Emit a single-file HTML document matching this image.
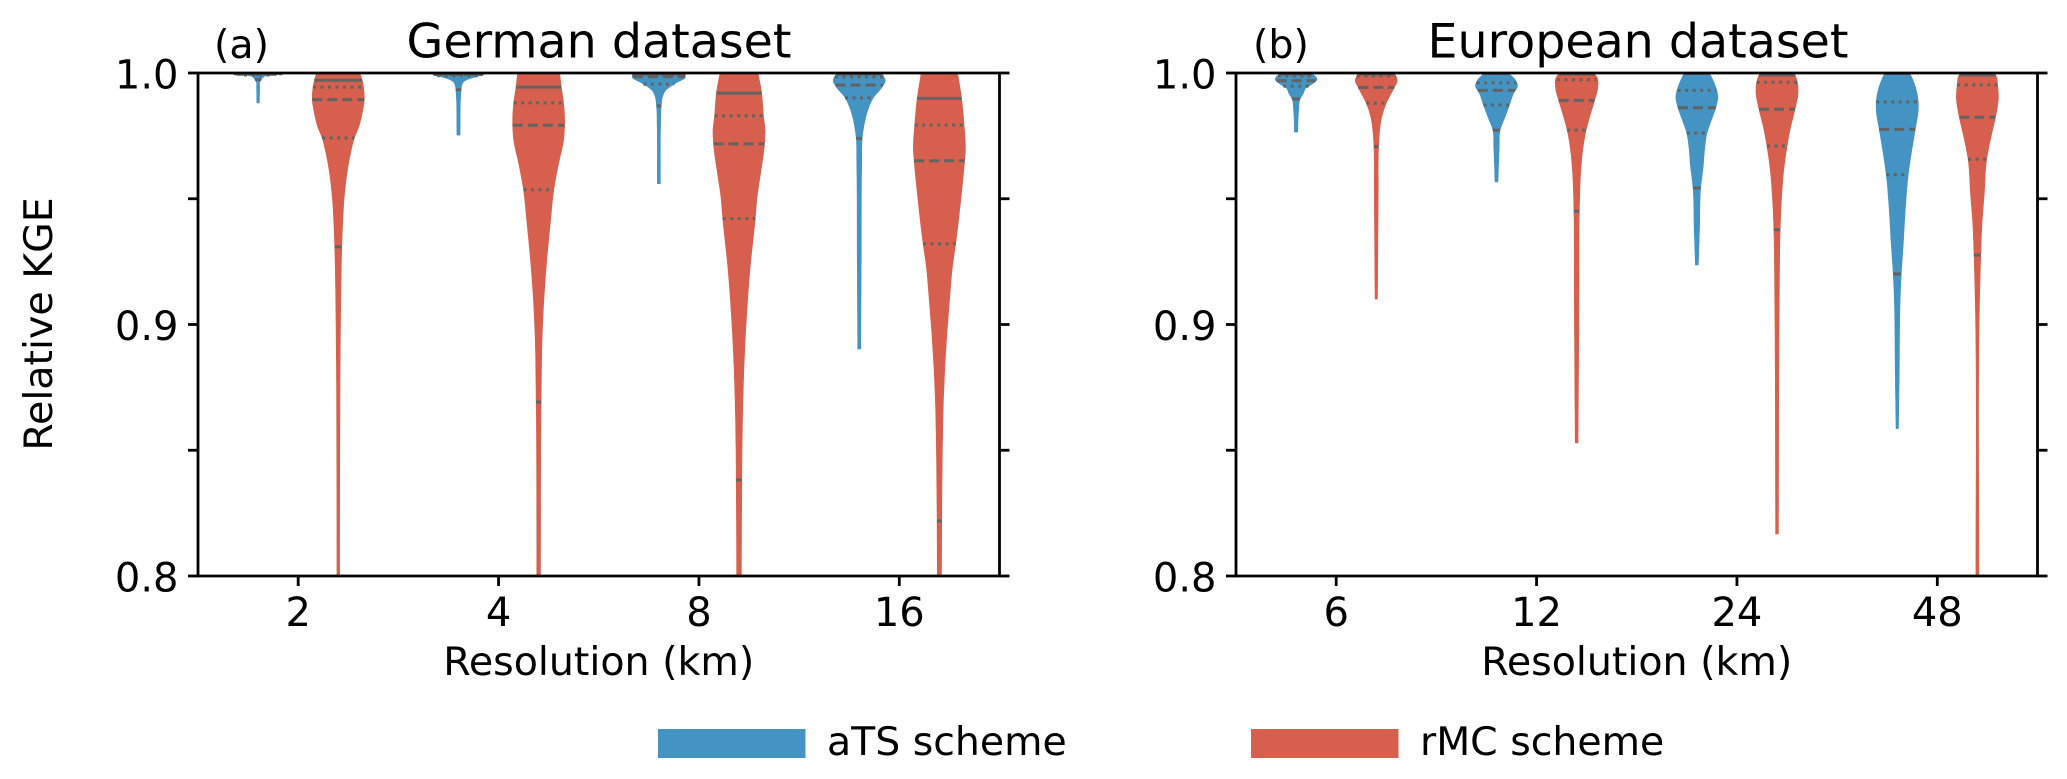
<!DOCTYPE html>
<html>
<head>
<meta charset="utf-8">
<title>Relative KGE violins</title>
<style>
html,body{margin:0;padding:0;background:#fff;}
svg{display:block;}
text{font-family:"DejaVu Sans","Liberation Sans",sans-serif;fill:#000;}
</style>
</head>
<body>
<svg id="chart" width="2067" height="779" viewBox="0 0 2067 779" xmlns="http://www.w3.org/2000/svg">
  <rect x="0" y="0" width="2067" height="779" fill="#ffffff"/>
  <text transform="translate(52,324) rotate(-90)" text-anchor="middle" font-size="39.5">Relative KGE</text>
  <text x="214" y="58" font-size="39.5">(a)</text>
  <text x="599" y="57.5" text-anchor="middle" font-size="47.5">German dataset</text>
  <text x="598.75" y="675" text-anchor="middle" font-size="39.5">Resolution (km)</text>
  <text x="1253" y="58" font-size="39.5">(b)</text>
  <text x="1638" y="57.5" text-anchor="middle" font-size="47.5">European dataset</text>
  <text x="1636.75" y="675" text-anchor="middle" font-size="39.5">Resolution (km)</text>
  <g>
    <rect x="658" y="729" width="147.5" height="29" fill="#4393c3"/>
    <text x="827" y="755" font-size="39.4">aTS scheme</text>
    <rect x="1251" y="729" width="147.5" height="29" fill="#d6604d"/>
    <text x="1420" y="755" font-size="39.4">rMC scheme</text>
  </g>
</svg>
<script>
const yTickValues = [1.0, 0.95, 0.9, 0.85, 0.8];
const yTickLabels = ['1.0', '', '0.9', '', '0.8'];
const germanResolutions = ['2', '4', '8', '16'];
const europeanResolutions = ['6', '12', '24', '48'];

const germanAtsKge = [
  [1, .9996, .9992, .9988, .9984, .998, .9974, .9968, .994, .9881],
  [1, .9992, .9984, .9976, .9968, .9952, .9932, .9901, .9753],
  [1, .998, .996, .9932, .9909, .9869, .9789, .956],
  [1, .9996, .9969, .994, .9906, .9853, .9801, .9742, .9654, .9256, .8903]
];
const germanAtsDensity = [
  [.96, .92, .54, .27, .21, .16, .12, .08, .06, .05],
  [1, .92, .65, .38, .23, .13, .10, .08, .06],
  [1, 1, .65, .27, .15, .09, .065, .058],
  [.85, .88, 1, .85, .57, .33, .2, .115, .096, .077, .058]
];
const germanAtsQuantiles = [
  [.9999, .9997, .9995, .9992, .9974],
  [.9998, .9996, .9994, .9989, .9934],
  [.9996, .9992, .9985, .9956, .9869],
  [.9996, .9984, .9952, .9901, .974]
];
const germanRmcKge = [
  [1, .9971, .9944, .9893, .9841, .9789, .9742, .967, .9575, .9495, .9416, .9308, .9097, .8831, .8],
  [1, .9944, .9881, .9809, .9734, .9642, .9535, .9416, .9229, .9097, .8966, .8692, .8],
  [1, .992, .9829, .9773, .9718, .9602, .9511, .9416, .9229, .9097, .8966, .8831, .87, .8501, .8],
  [1, .9901, .9793, .9694, .965, .9523, .9324, .9229, .9097, .8966, .8831, .87, .8501, .825, .8]
];
const germanRmcDensity = [
  [.83, .92, .97, 1, .92, .8, .62, .45, .30, .22, .175, .135, .096, .07, .05],
  [.81, .87, .96, 1, .96, .77, .58, .46, .29, .20, .14, .095, .07],
  [.73, .87, .94, 1, .98, .83, .70, .62, .43, .33, .25, .19, .15, .115, .09],
  [.70, .85, .95, 1, .97, .85, .63, .5, .39, .29, .21, .155, .115, .09, .08]
];
const germanRmcQuantiles = [
  [.9971, .9944, .9894, .9742, .9309],
  [.9944, .9881, .9792, .9536, .8692],
  [.992, .983, .9718, .9421, .8382],
  [.9899, .9793, .9651, .9321, .8219]
];
const europeanAtsKge = [
  [1, .9992, .9975, .9956, .9939, .992, .9897, .9853, .9765],
  [1, .9992, .9972, .9948, .9919, .9873, .9826, .9773, .9707, .9567],
  [1, .9959, .9903, .9862, .9813, .9761, .9707, .9627, .9543, .9389, .9237],
  [1, .9946, .9886, .9853, .9777, .9682, .9594, .9455, .9324, .9201, .9105, .8807, .8586]
];
const europeanAtsDensity = [
  [.67, .83, 1, .76, .45, .35, .19, .12, .076],
  [.57, .67, .90, 1, .81, .62, .41, .17, .13, .07],
  [.6, .83, 1, .9, .69, .48, .38, .3, .18, .13, .07],
  [.6, .86, 1, 1, .86, .67, .52, .38, .29, .19, .14, .095, .057]
];
const europeanAtsQuantiles = [
  [.9996, .9988, .9969, .9948, .9897],
  [.9998, .9961, .9931, .9873, .9773],
  [.9998, .9931, .9862, .9761, .9543],
  [.9998, .9885, .9776, .9596, .9201]
];
const europeanRmcKge = [
  [1, .9992, .9969, .9943, .9881, .9826, .9761, .9707, .9535, .9101],
  [1, .9992, .9939, .9893, .9826, .9773, .9694, .9602, .9451, .9125, .8529],
  [1, .9992, .9963, .992, .9857, .9786, .971, .9614, .9495, .9377, .9125, .8167],
  [1, .9992, .9953, .9899, .9824, .9747, .9657, .9523, .9389, .9276, .9105, .8]
];
const europeanRmcDensity = [
  [.81, .90, 1, .86, .48, .26, .15, .11, .095, .057],
  [.81, .90, 1, .86, .62, .45, .29, .19, .13, .114, .067],
  [.81, .86, .97, 1, .86, .65, .48, .32, .21, .15, .11, .067],
  [.8, .87, .96, 1, .86, .65, .44, .33, .21, .16, .105, .07]
];
const europeanRmcQuantiles = [
  [.9996, .9988, .9943, .988, .9707],
  [.9996, .9973, .9891, .9773, .945],
  [.9992, .9963, .9856, .971, .9377],
  [.9992, .9953, .9824, .9657, .9276]
];

const SVG_NS = 'http://www.w3.org/2000/svg';
const chart = document.getElementById('chart');
const COLORS = { ats: '#4393c3', rmc: '#d6604d' };
const LINE_COLOR = '#636363';
const DASHES = ['none', '3 4.5', '10 5', '3 4.5', 'none'];

function mk(tag, parent, attrs) {
  const el = document.createElementNS(SVG_NS, tag);
  for (const k in attrs) el.setAttribute(k, attrs[k]);
  parent.appendChild(el);
  return el;
}

function densityAt(v, kge, density) {
  for (let i = 0; i < kge.length - 1; i++) {
    if (v <= kge[i] && v >= kge[i + 1]) {
      const t = (kge[i] - v) / (kge[i] - kge[i + 1]);
      return density[i] + t * (density[i + 1] - density[i]);
    }
  }
  return density[density.length - 1];
}

/* Hermite segments with x as a function of y, tangents weighted for uneven spacing. */
function slopes(pts) {
  const n = pts.length, m = [];
  for (let i = 0; i < n; i++) {
    if (i === 0) {
      m.push((pts[1][0] - pts[0][0]) / (pts[1][1] - pts[0][1]));
    } else if (i === n - 1) {
      m.push((pts[i][0] - pts[i - 1][0]) / (pts[i][1] - pts[i - 1][1]));
    } else {
      const h0 = pts[i][1] - pts[i - 1][1], h1 = pts[i + 1][1] - pts[i][1];
      const s0 = (pts[i][0] - pts[i - 1][0]) / h0, s1 = (pts[i + 1][0] - pts[i][0]) / h1;
      m.push((s0 * h1 + s1 * h0) / (h0 + h1));
    }
  }
  return m;
}

function smoothSide(pts) {
  const m = slopes(pts);
  let d = '';
  for (let i = 0; i < pts.length - 1; i++) {
    const h = (pts[i + 1][1] - pts[i][1]) / 3;
    d += ' C' + (pts[i][0] + m[i] * h).toFixed(2) + ' ' + (pts[i][1] + h).toFixed(2) + ' ' +
      (pts[i + 1][0] - m[i + 1] * h).toFixed(2) + ' ' + (pts[i + 1][1] - h).toFixed(2) + ' ' +
      pts[i + 1][0].toFixed(2) + ' ' + pts[i + 1][1].toFixed(2);
  }
  return d;
}

function drawPanel(cfg) {
  const top = 73, bottom = 576;
  const yScale = v => top + (1.0 - v) * (bottom - top) / 0.2;
  const unit = (cfg.right - cfg.left) / cfg.categories.length;
  const xScale = p => cfg.left + unit * (p + 0.5);

  const clipId = 'clip-' + cfg.id;
  const defs = mk('defs', chart, {});
  const clip = mk('clipPath', defs, { id: clipId });
  mk('rect', clip, { x: cfg.left, y: top, width: cfg.right - cfg.left, height: bottom - top });

  const panel = mk('g', chart, {});
  
  
  const marks = mk('g', panel, { 'clip-path': 'url(#' + clipId + ')' });

  cfg.series.forEach(function (s) {
    s.kge.forEach(function (levels, i) {
      const cx = xScale(i + s.offset);
      const dens = s.density[i];
      const right = levels.map((v, j) => [cx + dens[j] * cfg.halfWidth, yScale(v)]);
      const left = levels.map((v, j) => [cx - dens[j] * cfg.halfWidth, yScale(v)]).reverse();
      let d = 'M' + right[0][0].toFixed(2) + ' ' + right[0][1].toFixed(2) + smoothSide(right);
      d += ' L' + left[0][0].toFixed(2) + ' ' + left[0][1].toFixed(2) + smoothSide(left) + ' Z';
      const body = mk('path', marks, { d: d, fill: s.color, stroke: s.color, 'stroke-width': 0.6 });
      
      

      s.quantiles[i].forEach(function (q, k) {
        const hw = densityAt(q, levels, dens) * cfg.halfWidth;
        const line = mk('line', marks, {
          x1: (cx - hw).toFixed(2), x2: (cx + hw).toFixed(2),
          y1: yScale(q).toFixed(2), y2: yScale(q).toFixed(2),
          stroke: LINE_COLOR, 'stroke-width': 3
        });
        if (DASHES[k] !== 'none') line.setAttribute('stroke-dasharray', DASHES[k]);
        
        
      });
    });
  });

  const axis = mk('g', panel, { stroke: '#000', 'stroke-width': 2.8, fill: 'none' });
  
  
  mk('path', axis, { d: 'M' + cfg.left + ' ' + top + ' H' + cfg.right + ' V' + bottom + ' H' + cfg.left + ' Z' });

  yTickValues.forEach(function (v, i) {
    const y = yScale(v);
    const tl = mk('line', axis, { x1: cfg.left - 10, x2: cfg.left, y1: y, y2: y });
    
    
    const tr = mk('line', axis, { x1: cfg.right, x2: cfg.right + 10, y1: y, y2: y });
    
    
    if (yTickLabels[i]) {
      const t = mk('text', panel, { x: cfg.left - 19.5, y: y + 15.5, 'text-anchor': 'end', 'font-size': 40 });
      t.textContent = yTickLabels[i];
      
      
    }
  });

  cfg.categories.forEach(function (c, i) {
    const x = xScale(i);
    const tick = mk('line', axis, { x1: x, x2: x, y1: bottom, y2: bottom + 10 });
    
    
    const t = mk('text', panel, { x: x, y: 626, 'text-anchor': 'middle', 'font-size': 40 });
    t.textContent = c;
    
    
  });
}

drawPanel({
  id: 'panel-a', left: 198, right: 999.5, halfWidth: 26, categories: germanResolutions,
  series: [
    { name: 'ats', color: COLORS.ats, offset: -0.2, kge: germanAtsKge, density: germanAtsDensity, quantiles: germanAtsQuantiles },
    { name: 'rmc', color: COLORS.rmc, offset: 0.2, kge: germanRmcKge, density: germanRmcDensity, quantiles: germanRmcQuantiles }
  ]
});
drawPanel({
  id: 'panel-b', left: 1236, right: 2037.5, halfWidth: 21, categories: europeanResolutions,
  series: [
    { name: 'ats', color: COLORS.ats, offset: -0.2, kge: europeanAtsKge, density: europeanAtsDensity, quantiles: europeanAtsQuantiles },
    { name: 'rmc', color: COLORS.rmc, offset: 0.2, kge: europeanRmcKge, density: europeanRmcDensity, quantiles: europeanRmcQuantiles }
  ]
});
</script>
</body>
</html>
